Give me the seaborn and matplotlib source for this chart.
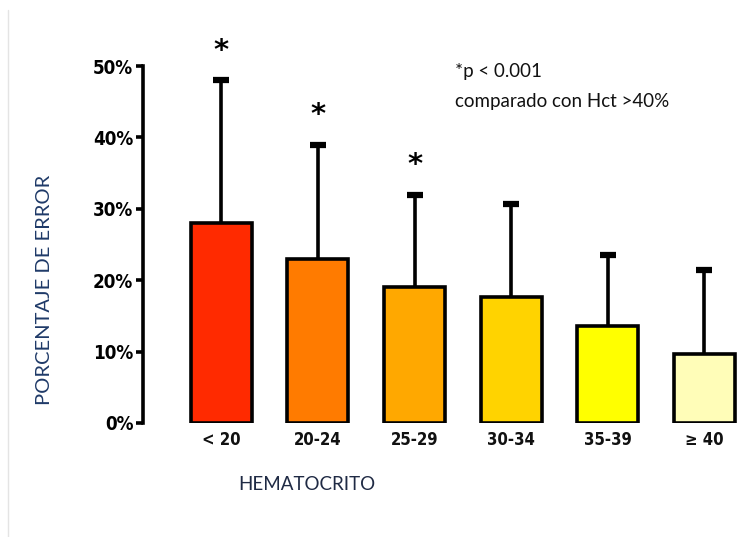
import matplotlib
matplotlib.use("Agg")
import matplotlib.pyplot as plt
import seaborn as sns
import pandas as pd
from matplotlib.lines import Line2D

# Hematocrit groups and error percentages
categories = ["< 20", "20-24", "25-29", "30-34", "35-39", "≥ 40"]
mean_error = [28.0, 23.0, 19.0, 17.7, 13.6, 9.6]
sd_upper = [20.0, 16.0, 13.0, 13.0, 9.9, 11.8]
significant = [True, True, True, False, False, False]
bar_colors = ["#FF2A00", "#FF7B00", "#FFA800", "#FFD300", "#FFFF00", "#FFFDB8"]
y_ticks = [0, 10, 20, 30, 40, 50]

df = pd.DataFrame({"hct": categories, "error": mean_error})

sns.set_theme(style="white")
plt.rcParams["font.family"] = ["DejaVu Sans"]
label_font = ["Lato", "DejaVu Sans"]

fig = plt.figure(figsize=(7.52, 5.37), dpi=100)
W, H = 752, 537
left, right, bottom, top = 143, 747, 423, 66
ax = fig.add_axes([left / W, 1 - bottom / H, (right - left) / W, (bottom - top) / H])

sns.barplot(data=df, x="hct", y="error", hue="hct", palette=bar_colors,
            saturation=1, legend=False, width=0.63, edgecolor="black",
            linewidth=2.6, errorbar=None, ax=ax, zorder=2)

# one-sided error bars: stem from bar top up to mean + sd, with a cap
xs = list(range(len(categories)))
tops = [m + s for m, s in zip(mean_error, sd_upper)]
ax.vlines(xs, mean_error, tops, colors="black", linewidth=2.6, zorder=1)
ax.plot(xs, tops, linestyle="none", marker="_", markersize=11,
        markeredgewidth=4.5, color="black", zorder=3, clip_on=False)

# significance markers
for x, t, sig in zip(xs, tops, significant):
    if sig:
        ax.text(x, t + 2.2, "*", ha="center", va="bottom", fontsize=21,
                fontweight="bold", color="black", clip_on=False)

ax.set_xlim(-0.81, 5.44)
ax.set_ylim(0, 50)
ax.set_yticks(y_ticks)
ax.set_yticklabels([f"{t}%" for t in y_ticks], fontweight="bold", fontsize=13.5,
                   fontstretch="condensed", color="black")
ax.set_xticks(xs)
ax.set_xticklabels(categories, fontweight="bold", fontsize=12,
                   fontstretch="condensed", color="#111111")
ax.tick_params(axis="y", length=5, width=2.6, pad=2, color="black", left=True)
ax.tick_params(axis="x", length=0, pad=6)

for side in ["top", "right", "bottom"]:
    ax.spines[side].set_visible(False)
ax.spines["left"].set_linewidth(2.6)
ax.spines["left"].set_color("black")
ax.set_xlabel("")
ax.set_ylabel("")

fig.text(45 / W, 1 - 290 / H, "PORCENTAJE DE ERROR", rotation=90, ha="center",
         va="center", fontsize=14.5, color="#1F3A68", fontfamily=label_font)
fig.text(307 / W, 1 - 485 / H, "HEMATOCRITO", ha="center", va="center",
         fontsize=13.5, color="#1F2A44", fontfamily=label_font)
fig.text(455 / W, 1 - 71 / H, "*p < 0.001", ha="left", va="center",
         fontsize=13.5, color="#111111", fontfamily=label_font)
fig.text(455 / W, 1 - 101 / H, "comparado con Hct >40%", ha="left", va="center",
         fontsize=13.5, color="#111111", fontfamily=label_font)

# faint frame line along the left edge
fig.add_artist(Line2D([8 / W, 8 / W], [0, 1 - 10 / H], transform=fig.transFigure,
                      color="#E4E4E4", linewidth=1))

fig.savefig("out.png", dpi=100)
